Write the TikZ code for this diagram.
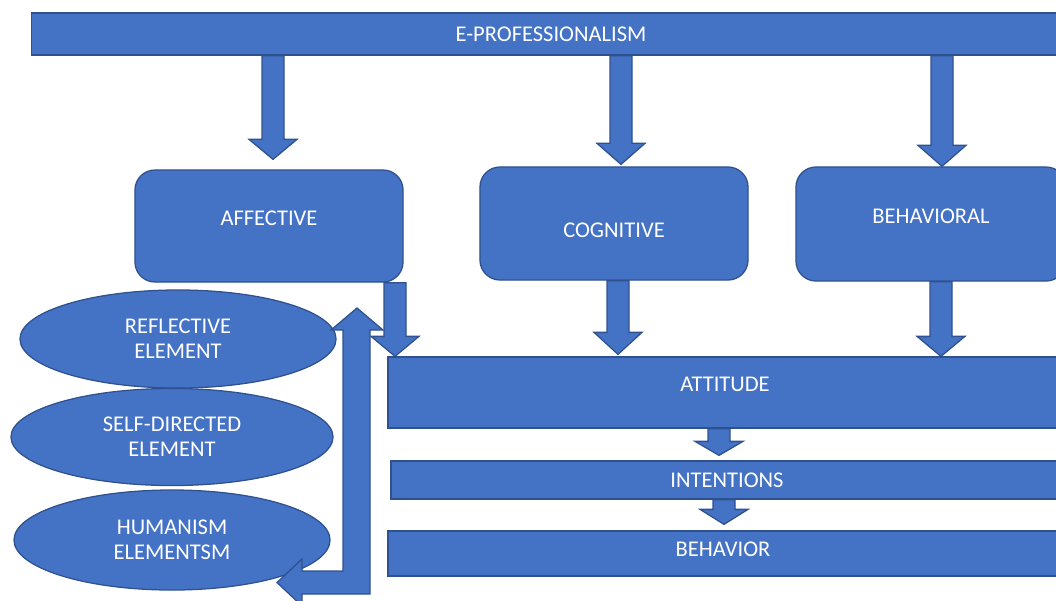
\documentclass[tikz,border=0pt]{standalone}
\usepackage{fontspec}
\setmainfont{Carlito}
\usetikzlibrary{shapes.geometric,calc}
\definecolor{boxblue}{HTML}{4472C4}
\definecolor{edgeblue}{HTML}{2F528F}
\newcommand{\lab}{\fontsize{16}{17.7}\selectfont}
\tikzset{
  blk/.style={draw=edgeblue, fill=boxblue, line width=0.9pt},
  bar/.style={blk, inner sep=0pt},
  rbox/.style={blk, rounded corners=0.5cm, inner sep=0pt},
  oval/.style={blk, ellipse, inner sep=0pt, align=center, text=white, font=\lab},
  txt/.style={text=white, font=\lab},
}
% block arrow pointing down: start, tip, head length
\newcommand{\fatdown}[3]{%
  \draw[blk] ($(#1)+(-11,0)$) -- ($(#2)+(-11,-#3)$) -- ($(#2)+(-24,-#3)$) -- (#2)
    -- ($(#2)+(24,-#3)$) -- ($(#2)+(11,-#3)$) -- ($(#1)+(11,0)$) -- cycle;}
\begin{document}
\begin{tikzpicture}[x=0.025cm, y=-0.025cm]
\useasboundingbox (0,0) rectangle (1056,600);
\clip (0,0) rectangle (1056,600);

% top bar and the three domains
\node[bar, minimum width=25.95cm, minimum height=1.05cm] (eprof) at (551,34) {};
\node[txt] at (eprof) {E-PROFESSIONALISM};
\node[rbox, minimum width=6.7cm, minimum height=2.8cm,
  label={[txt, yshift=0.2cm]center:AFFECTIVE}] (affective) at (269,226) {};
\node[rbox, minimum width=6.7cm, minimum height=2.825cm,
  label={[txt, yshift=-0.175cm]center:COGNITIVE}] (cognitive) at (614,223.5) {};
\node[rbox, minimum width=6.75cm, minimum height=2.85cm,
  label={[txt, yshift=0.2cm]center:BEHAVIORAL}] (behavioral) at (931,224) {};

% outcome bars
\node[bar, minimum width=16.85cm, minimum height=1.775cm,
  label={[txt, yshift=0.21cm]center:ATTITUDE}] (attitude) at (725,392.5) {};
\node[bar, minimum width=16.8cm, minimum height=0.95cm,
  label={[txt]center:INTENTIONS}] (intentions) at (727,480) {};
\node[bar, minimum width=16.75cm, minimum height=1.125cm,
  label={[txt, yshift=0.11cm]center:BEHAVIOR}] (behavior) at (723,553.5) {};

% elements
\node[oval, minimum width=7.9cm, minimum height=2.45cm] (reflective) at (178,339) {REFLECTIVE\\ELEMENT};
\node[oval, minimum width=8.05cm, minimum height=2.425cm] (selfdir) at (172,437) {SELF-DIRECTED\\ELEMENT};
\node[oval, minimum width=7.9cm, minimum height=2.5cm] (humanism) at (172,540) {HUMANISM\\ELEMENTSM};

% arrow ends
\path (eprof.south -| affective) ++(4,0) coordinate (s1);
\path (affective.north) ++(4,-10) coordinate (t1);
\path (eprof.south -| cognitive) ++(7,0) coordinate (s2);
\path (cognitive.north) ++(7,-2) coordinate (t2);
\path (eprof.south -| behavioral) ++(11,0) coordinate (s3);
\path (behavioral.north) ++(11,0) coordinate (t3);
\path (affective.south) ++(126,0) coordinate (s4);
\path (attitude.north -| s4) coordinate (t4);
\path (cognitive.south) ++(4,0) coordinate (s5);
\path (attitude.north -| s5) ++(0,-2) coordinate (t5);
\path (behavioral.south) ++(10,0) coordinate (s6);
\path (attitude.north -| s6) coordinate (t6);
\path (attitude.south) ++(-6,0) coordinate (s7);
\path (intentions.north -| s7) ++(0,-5) coordinate (t7);
\path (intentions.south) ++(-3,0) coordinate (s8);
\path (behavior.north -| s8) ++(0,-6) coordinate (t8);

\fatdown{s1}{t1}{20}
\fatdown{s2}{t2}{21}
\fatdown{s3}{t3}{21}
\fatdown{s4}{t4}{20}
\fatdown{s5}{t5}{22}
\fatdown{s6}{t6}{20}
\fatdown{s7}{t7}{14}
\fatdown{s8}{t8}{15}

% bent two-headed arrow beside the elements
\coordinate (looptop) at (357,308);
\coordinate (loopend) at (277,582.5);
\draw[blk] (looptop) -- ++(26,22) -- ++(-13,0) -- (370,594) -- (302,594) -- ++(0,12)
  -- (loopend) -- (302,559) -- (302,571) -- (343,571) -- (343,330) -- (331,330) -- cycle;
\end{tikzpicture}
\end{document}
